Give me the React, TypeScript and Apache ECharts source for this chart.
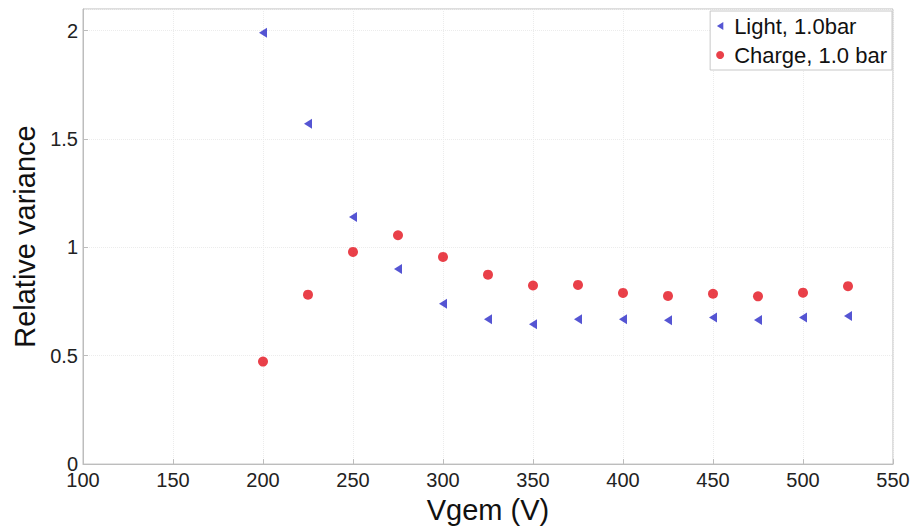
import React, { useEffect, useRef } from "react";
import * as echarts from "echarts";

const vgem = [200, 225, 250, 275, 300, 325, 350, 375, 400, 425, 450, 475, 500, 525];
const lightValues = [1.99, 1.57, 1.14, 0.9, 0.74, 0.668, 0.645, 0.668, 0.668, 0.664, 0.677, 0.665, 0.677, 0.683];
const chargeValues = [0.473, 0.782, 0.979, 1.056, 0.956, 0.874, 0.824, 0.827, 0.79, 0.776, 0.786, 0.774, 0.791, 0.821];
const seriesNames = ["Light, 1.0bar", "Charge, 1.0 bar"];

const leftTriangle = "path://M8,0 L0,5 L8,10 Z";

export default function App() {
  const ref = useRef<HTMLDivElement>(null);
  useEffect(() => {
    if (!ref.current) return;
    const chart = echarts.init(ref.current, undefined, { renderer: "svg" });
    const font = "'Liberation Sans', Arial, sans-serif";
    chart.setOption({
      animation: false,
      backgroundColor: "#ffffff",
      grid: { left: 83, top: 9, right: 20, bottom: 56, show: true, borderColor: "#bdbdbd", borderWidth: 1 },
      legend: {
        right: 21,
        top: 11,
        orient: "vertical",
        backgroundColor: "#fff",
        borderColor: "#c8c8c8",
        borderWidth: 1,
        padding: [4, 5, 4, 6],
        itemGap: 7,
        itemWidth: 8,
        itemHeight: 8,
        textStyle: { fontFamily: font, fontSize: 22, color: "#111", padding: [0, 0, 0, 5] },
        data: [
          { name: seriesNames[0], icon: leftTriangle },
          { name: seriesNames[1], icon: "circle" },
        ],
      },
      xAxis: {
        type: "value",
        min: 100,
        max: 550,
        interval: 50,
        name: "Vgem (V)",
        nameLocation: "middle",
        nameGap: 27,
        nameTextStyle: { fontFamily: font, fontSize: 29, color: "#111" },
        axisLine: { show: true, lineStyle: { color: "#bdbdbd" } },
        axisTick: { show: true, inside: true, length: 5, lineStyle: { color: "#bdbdbd" } },
        axisLabel: { fontFamily: font, fontSize: 20, color: "#222", margin: 6 },
        splitLine: { show: true, lineStyle: { color: "#ececec", type: "dotted" } },
      },
      yAxis: {
        type: "value",
        min: 0,
        max: 2.1,
        interval: 0.5,
        name: "Relative variance",
        nameLocation: "middle",
        nameGap: 37,
        nameTextStyle: { fontFamily: font, fontSize: 29, color: "#111" },
        axisLine: { show: true, lineStyle: { color: "#bdbdbd" } },
        axisTick: { show: true, inside: true, length: 5, lineStyle: { color: "#bdbdbd" } },
        axisLabel: {
          fontFamily: font,
          fontSize: 20,
          color: "#222",
          margin: 5,
          showMaxLabel: false,
          formatter: (v: number) => (Math.abs(v - 2.1) < 1e-6 ? "" : String(v)),
        },
        splitLine: { show: true, lineStyle: { color: "#ececec", type: "dotted" } },
      },
      series: [
        {
          name: seriesNames[0],
          type: "scatter",
          symbol: leftTriangle,
          symbolSize: [8, 10],
          itemStyle: { color: "#2a2ac8" },
          data: vgem.map((x, i) => [x, lightValues[i]]),
        },
        {
          name: seriesNames[1],
          type: "scatter",
          symbol: "circle",
          symbolSize: 10,
          itemStyle: { color: "#e3101c" },
          data: vgem.map((x, i) => [x, chargeValues[i]]),
        },
      ],
    });
    return () => chart.dispose();
  }, []);
  return (
    <div
      ref={ref}
      style={{ position: "fixed", left: 0, top: 0, width: 913, height: 529 }}
    />
  );
}
